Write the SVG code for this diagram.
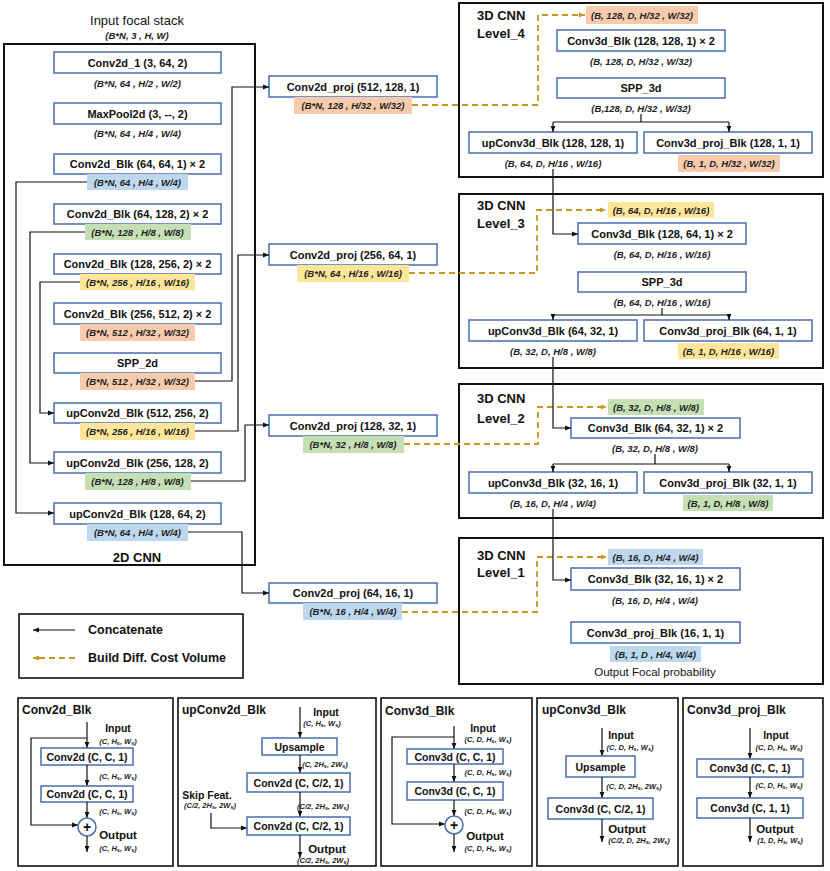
<svg xmlns="http://www.w3.org/2000/svg" width="830" height="871" viewBox="0 0 830 871">
<style>
.bg{fill:#fff}
.n{fill:#fff;stroke:#4A6CB0;stroke-width:1.5}
.t{font-family:"Liberation Sans",Arial,sans-serif;font-weight:bold;font-size:11px;text-anchor:middle;dominant-baseline:central;fill:#111}
.l{font-family:"Liberation Sans",Arial,sans-serif;font-weight:bold;font-style:italic;font-size:9.5px;text-anchor:middle;dominant-baseline:central;fill:#222}
.s{font-family:"Liberation Sans",Arial,sans-serif;font-weight:bold;font-style:italic;font-size:7.5px;text-anchor:middle;dominant-baseline:central;fill:#222}
.h{font-family:"Liberation Sans",Arial,sans-serif;font-weight:bold;font-size:13px;fill:#111;dominant-baseline:central}
.bt{font-family:"Liberation Sans",Arial,sans-serif;font-weight:bold;font-size:12px;fill:#111;dominant-baseline:central}
.bx{font-family:"Liberation Sans",Arial,sans-serif;font-weight:bold;font-size:10.5px;text-anchor:middle;dominant-baseline:central;fill:#111}
.r{font-family:"Liberation Sans",Arial,sans-serif;font-size:13px;text-anchor:middle;dominant-baseline:central;fill:#111}
.frame{fill:none;stroke:#111;stroke-width:2}
.c{fill:none;stroke:#111;stroke-width:1.2}
.d{fill:none;stroke:#C9971F;stroke-width:1.8;stroke-dasharray:6 4}
.hb{fill:#BDD7EE}.hg{fill:#C5E0B4}.hy{fill:#FFE699}.hs{fill:#F8CBAD}
</style>
<defs>
<marker id="a" viewBox="0 0 6 6" refX="6" refY="3" markerWidth="6" markerHeight="6" orient="auto" markerUnits="userSpaceOnUse"><path d="M0,0.6 L6,3 L0,5.4z" fill="#111"/></marker>
<marker id="g" viewBox="0 0 6 6" refX="6" refY="3" markerWidth="6" markerHeight="6" orient="auto" markerUnits="userSpaceOnUse"><path d="M0,0.6 L6,3 L0,5.4z" fill="#C9971F"/></marker>
</defs>
<rect class="bg" x="0" y="0" width="830" height="871"/>

<!-- 2D CNN -->
<g id="cnn2d">
<text class="r" x="137" y="20">Input focal stack</text>
<text class="l" x="137" y="35">(B*N, 3 , H, W)</text>
<rect class="frame" x="4" y="44" width="251" height="521"/>
<text class="h" x="137" y="557" text-anchor="middle">2D CNN</text>
</g>
<g id="conv2d_1"><rect class="n" x="54" y="52" width="167" height="21"/><text class="t" x="137.5" y="62.5">Conv2d_1 (3, 64, 2)</text><text class="l" x="137.5" y="83">(B*N, 64 , H/2 , W/2)</text></g>
<g id="maxpool"><rect class="n" x="54" y="103" width="167" height="21"/><text class="t" x="137.5" y="113.5">MaxPool2d (3, --, 2)</text><text class="l" x="137.5" y="133">(B*N, 64 , H/4 , W/4)</text></g>
<g id="c2b1"><rect class="n" x="54" y="154" width="167" height="20"/><text class="t" x="137.5" y="164">Conv2d_Blk (64, 64, 1) × 2</text><rect class="hb" x="87" y="174" width="101" height="16"/><text class="l" x="137.5" y="182">(B*N, 64 , H/4 , W/4)</text></g>
<g id="c2b2"><rect class="n" x="54" y="204" width="167" height="20"/><text class="t" x="137.5" y="214">Conv2d_Blk (64, 128, 2) × 2</text><rect class="hg" x="85" y="224" width="106" height="16"/><text class="l" x="137.5" y="232">(B*N, 128 , H/8 , W/8)</text></g>
<g id="c2b3"><rect class="n" x="54" y="254" width="167" height="20"/><text class="t" x="137.5" y="264">Conv2d_Blk (128, 256, 2) × 2</text><rect class="hy" x="80" y="274" width="115" height="16"/><text class="l" x="137.5" y="282">(B*N, 256 , H/16 , W/16)</text></g>
<g id="c2b4"><rect class="n" x="54" y="303" width="167" height="21"/><text class="t" x="137.5" y="313.5">Conv2d_Blk (256, 512, 2) × 2</text><rect class="hs" x="80" y="324" width="115" height="17"/><text class="l" x="137.5" y="332.5">(B*N, 512 , H/32 , W/32)</text></g>
<g id="spp2d"><rect class="n" x="54" y="353" width="167" height="20"/><text class="t" x="137.5" y="363">SPP_2d</text><rect class="hs" x="80" y="373" width="115" height="17"/><text class="l" x="137.5" y="381.5">(B*N, 512 , H/32 , W/32)</text></g>
<g id="up2d1"><rect class="n" x="54" y="403" width="167" height="20"/><text class="t" x="137.5" y="413">upConv2d_Blk (512, 256, 2)</text><rect class="hy" x="80" y="423" width="115" height="17"/><text class="l" x="137.5" y="431.5">(B*N, 256 , H/16 , W/16)</text></g>
<g id="up2d2"><rect class="n" x="54" y="452" width="167" height="21"/><text class="t" x="137.5" y="462.5">upConv2d_Blk (256, 128, 2)</text><rect class="hg" x="85" y="473" width="106" height="17"/><text class="l" x="137.5" y="481.5">(B*N, 128 , H/8 , W/8)</text></g>
<g id="up2d3"><rect class="n" x="54" y="503" width="167" height="21"/><text class="t" x="137.5" y="513.5">upConv2d_Blk (128, 64, 2)</text><rect class="hb" x="87" y="524" width="101" height="17"/><text class="l" x="137.5" y="532.5">(B*N, 64 , H/4 , W/4)</text></g>

<!-- projections -->
<g id="proj1"><rect class="n" x="269" y="76" width="168" height="21"/><text class="t" x="353" y="86.5">Conv2d_proj (512, 128, 1)</text><rect class="hs" x="294" y="97" width="118" height="17"/><text class="l" x="353" y="105.5">(B*N, 128 , H/32 , W/32)</text></g>
<g id="proj2"><rect class="n" x="269" y="244" width="168" height="21"/><text class="t" x="353" y="254.5">Conv2d_proj (256, 64, 1)</text><rect class="hy" x="297" y="265" width="112" height="17"/><text class="l" x="353" y="273.5">(B*N, 64 , H/16 , W/16)</text></g>
<g id="proj3"><rect class="n" x="269" y="415" width="168" height="21"/><text class="t" x="353" y="425.5">Conv2d_proj (128, 32, 1)</text><rect class="hg" x="303" y="436" width="101" height="17"/><text class="l" x="353" y="444.5">(B*N, 32 , H/8 , W/8)</text></g>
<g id="proj4"><rect class="n" x="269" y="583" width="168" height="20"/><text class="t" x="353" y="593">Conv2d_proj (64, 16, 1)</text><rect class="hb" x="303" y="603" width="99" height="17"/><text class="l" x="353" y="611.5">(B*N, 16 , H/4 , W/4)</text></g>

<!-- 3D levels -->
<g id="level4">
<rect class="frame" x="459" y="3" width="364" height="174"/>
<text class="h" x="477" y="15">3D CNN</text><text class="h" x="477" y="33">Level_4</text>
<rect class="hs" x="586" y="6" width="112" height="18"/><text class="l" x="642" y="15">(B, 128, D, H/32 , W/32)</text>
<rect class="n" x="557" y="30" width="168" height="21"/><text class="t" x="641" y="40.5">Conv3d_Blk (128, 128, 1) × 2</text><text class="l" x="641" y="61">(B, 128, D, H/32 , W/32)</text>
<rect class="n" x="557" y="78" width="168" height="20"/><text class="t" x="641" y="88">SPP_3d</text><text class="l" x="641" y="108">(B,128, D, H/32 , W/32)</text>
<rect class="n" x="469" y="132" width="168" height="21"/><text class="t" x="553" y="142.5">upConv3d_Blk (128, 128, 1)</text><text class="l" x="553" y="163">(B, 64, D, H/16 , W/16)</text>
<rect class="n" x="644" y="132" width="168" height="21"/><text class="t" x="728" y="142.5">Conv3d_proj_Blk (128, 1, 1)</text><rect class="hs" x="678" y="155" width="102" height="17"/><text class="l" x="729" y="163.5">(B, 1, D, H/32 , W/32)</text>
</g>
<g id="level3">
<rect class="frame" x="459" y="194" width="364" height="174"/>
<text class="h" x="477" y="205">3D CNN</text><text class="h" x="477" y="223">Level_3</text>
<rect class="hy" x="608" y="202" width="106" height="16"/><text class="l" x="661" y="210">(B, 64, D, H/16 , W/16)</text>
<rect class="n" x="578" y="223" width="168" height="21"/><text class="t" x="662" y="233.5">Conv3d_Blk (128, 64, 1) × 2</text><text class="l" x="662" y="254">(B, 64, D, H/16 , W/16)</text>
<rect class="n" x="578" y="272" width="168" height="20"/><text class="t" x="662" y="282">SPP_3d</text><text class="l" x="662" y="302">(B, 64, D, H/16 , W/16)</text>
<rect class="n" x="469" y="320" width="168" height="21"/><text class="t" x="553" y="330.5">upConv3d_Blk (64, 32, 1)</text><text class="l" x="553" y="351">(B, 32, D, H/8 , W/8)</text>
<rect class="n" x="644" y="320" width="168" height="21"/><text class="t" x="728" y="330.5">Conv3d_proj_Blk (64, 1, 1)</text><rect class="hy" x="678" y="343" width="101" height="16"/><text class="l" x="728.5" y="351">(B, 1, D, H/16 , W/16)</text>
</g>
<g id="level2">
<rect class="frame" x="459" y="384" width="364" height="134"/>
<text class="h" x="477" y="398">3D CNN</text><text class="h" x="477" y="418">Level_2</text>
<rect class="hg" x="608" y="399" width="96" height="16"/><text class="l" x="656" y="407">(B, 32, D, H/8 , W/8)</text>
<rect class="n" x="571" y="418" width="169" height="20"/><text class="t" x="655.5" y="428">Conv3d_Blk (64, 32, 1) × 2</text><text class="l" x="655" y="448">(B, 32, D, H/8 , W/8)</text>
<rect class="n" x="469" y="472" width="168" height="21"/><text class="t" x="553" y="482.5">upConv3d_Blk (32, 16, 1)</text><text class="l" x="553" y="503">(B, 16, D, H/4 , W/4)</text>
<rect class="n" x="644" y="472" width="168" height="21"/><text class="t" x="728" y="482.5">Conv3d_proj_Blk (32, 1, 1)</text><rect class="hg" x="683" y="495" width="90" height="16"/><text class="l" x="728" y="503">(B, 1, D, H/8 , W/8)</text>
</g>
<g id="level1">
<rect class="frame" x="459" y="538" width="364" height="146"/>
<text class="h" x="477" y="555">3D CNN</text><text class="h" x="477" y="572">Level_1</text>
<rect class="hb" x="608" y="549" width="95" height="16"/><text class="l" x="655.5" y="557">(B, 16, D, H/4 , W/4)</text>
<rect class="n" x="571" y="568" width="169" height="22"/><text class="t" x="655.5" y="579">Conv3d_Blk (32, 16, 1) × 2</text><text class="l" x="655" y="600">(B, 16, D, H/4 , W/4)</text>
<rect class="n" x="571" y="622" width="169" height="21"/><text class="t" x="655.5" y="632.5">Conv3d_proj_Blk (16, 1, 1)</text><rect class="hb" x="610" y="646" width="91" height="16"/><text class="l" x="655.5" y="654">(B, 1, D , H/4, W/4)</text>
<text class="r" x="655" y="672" style="font-size:11.5px">Output Focal probability</text>
</g>

<!-- legend -->
<g id="legend">
<rect class="frame" x="19" y="614" width="224" height="64" style="stroke-width:1.6"/>
<path class="c" d="M75,630 H33" marker-end="url(#a)"/>
<text class="bt" x="88" y="630" style="font-size:12.5px">Concatenate</text>
<path class="d" d="M75,658 H33" marker-end="url(#g)"/>
<text class="bt" x="88" y="658" style="font-size:12.5px">Build Diff. Cost Volume</text>
</g>

<!-- connectors -->
<g id="connectors">
<path class="c" d="M87,182 H16 V513 H54" marker-end="url(#a)"/>
<path class="c" d="M85,232 H30 V463 H54" marker-end="url(#a)"/>
<path class="c" d="M80,282 H40 V413 H54" marker-end="url(#a)"/>
<path class="c" d="M195,381 H232 V87 H269" marker-end="url(#a)"/>
<path class="c" d="M195,431 H238 V255 H269" marker-end="url(#a)"/>
<path class="c" d="M191,481 H245 V425 H269" marker-end="url(#a)"/>
<path class="c" d="M188,532 H242 V593 H269" marker-end="url(#a)"/>
<path class="d" d="M412,105 H538 V15 H585" marker-end="url(#g)"/>
<path class="d" d="M409,273 H537 V210 H606" marker-end="url(#g)"/>
<path class="d" d="M404,444 H538 V407 H607" marker-end="url(#g)"/>
<path class="d" d="M402,612 H537 V557 H607" marker-end="url(#g)"/>
<path class="c" d="M641,114 V122 M553,122 H729"/>
<path class="c" d="M553,122 V132" marker-end="url(#a)"/>
<path class="c" d="M729,122 V132" marker-end="url(#a)"/>
<path class="c" d="M662,308 V315 M553,315 H729"/>
<path class="c" d="M553,315 V320" marker-end="url(#a)"/>
<path class="c" d="M729,315 V320" marker-end="url(#a)"/>
<path class="c" d="M655,454 V464 M553,464 H729"/>
<path class="c" d="M553,464 V472" marker-end="url(#a)"/>
<path class="c" d="M729,464 V472" marker-end="url(#a)"/>
<path class="c" d="M553,169 V234 H578" marker-end="url(#a)"/>
<path class="c" d="M553,357 V428 H571" marker-end="url(#a)"/>
<path class="c" d="M553,509 V580 H571" marker-end="url(#a)"/>
</g>

<!-- detail blocks -->
<g id="blk_conv2d">
<rect class="frame" x="18" y="698" width="155" height="168" style="stroke-width:1.6"/>
<text class="bt" x="22" y="710">Conv2d_Blk</text>
<path class="c" d="M87,722 V748" marker-end="url(#a)"/>
<path class="c" d="M87,738 H31 V825 H78" marker-end="url(#a)"/>
<text class="bx" x="118" y="728">Input</text>
<text class="s" x="118" y="741">(C, H<tspan dy="1.5" font-size="5.5">s</tspan><tspan dy="-1.5">, W</tspan><tspan dy="1.5" font-size="5.5">s</tspan><tspan dy="-1.5">)</tspan></text>
<rect class="n" x="41" y="748" width="92" height="17"/><text class="bx" x="87" y="756.5">Conv2d (C, C, 1)</text>
<path class="c" d="M87,765 V786" marker-end="url(#a)"/>
<text class="s" x="118" y="776">(C, H<tspan dy="1.5" font-size="5.5">s</tspan><tspan dy="-1.5">, W</tspan><tspan dy="1.5" font-size="5.5">s</tspan><tspan dy="-1.5">)</tspan></text>
<rect class="n" x="41" y="786" width="92" height="16"/><text class="bx" x="87" y="794">Conv2d (C, C, 1)</text>
<path class="c" d="M87,802 V818" marker-end="url(#a)"/>
<text class="s" x="118" y="811">(C, H<tspan dy="1.5" font-size="5.5">s</tspan><tspan dy="-1.5">, W</tspan><tspan dy="1.5" font-size="5.5">s</tspan><tspan dy="-1.5">)</tspan></text>
<circle class="n" cx="87" cy="827" r="9"/><text class="bx" x="87" y="826.5" style="font-size:14px">+</text>
<path class="c" d="M87,836 V852" marker-end="url(#a)"/>
<text class="bx" x="118" y="835" style="font-size:11.5px">Output</text>
<text class="s" x="118" y="848">(C, H<tspan dy="1.5" font-size="5.5">s</tspan><tspan dy="-1.5">, W</tspan><tspan dy="1.5" font-size="5.5">s</tspan><tspan dy="-1.5">)</tspan></text>
</g>
<g id="blk_upconv2d">
<rect class="frame" x="178" y="698" width="198" height="168" style="stroke-width:1.6"/>
<text class="bt" x="182" y="710">upConv2d_Blk</text>
<path class="c" d="M300,707 V738" marker-end="url(#a)"/>
<text class="bx" x="326" y="712">Input</text>
<text class="s" x="322" y="723">(C, H<tspan dy="1.5" font-size="5.5">s</tspan><tspan dy="-1.5">, W</tspan><tspan dy="1.5" font-size="5.5">s</tspan><tspan dy="-1.5">)</tspan></text>
<rect class="n" x="262" y="738" width="75" height="17"/><text class="bx" x="299.5" y="746.5">Upsample</text>
<path class="c" d="M300,755 V773" marker-end="url(#a)"/>
<text class="s" x="325" y="764">(C, 2H<tspan dy="1.5" font-size="5.5">s</tspan><tspan dy="-1.5">, 2W</tspan><tspan dy="1.5" font-size="5.5">s</tspan><tspan dy="-1.5">)</tspan></text>
<rect class="n" x="247" y="773" width="103" height="19"/><text class="bx" x="298.5" y="782.5">Conv2d (C, C/2, 1)</text>
<path class="c" d="M300,792 V817" marker-end="url(#a)"/>
<text class="s" x="323" y="806">(C/2, 2H<tspan dy="1.5" font-size="5.5">s</tspan><tspan dy="-1.5">, 2W</tspan><tspan dy="1.5" font-size="5.5">s</tspan><tspan dy="-1.5">)</tspan></text>
<text class="bx" x="207" y="795">Skip Feat.</text>
<text class="s" x="210" y="805">(C/2, 2H<tspan dy="1.5" font-size="5.5">s</tspan><tspan dy="-1.5">, 2W</tspan><tspan dy="1.5" font-size="5.5">s</tspan><tspan dy="-1.5">)</tspan></text>
<path class="c" d="M211,813 V828 H247" marker-end="url(#a)"/>
<rect class="n" x="247" y="817" width="103" height="18"/><text class="bx" x="298.5" y="826">Conv2d (C, C/2, 1)</text>
<path class="c" d="M300,835 V858" marker-end="url(#a)"/>
<text class="bx" x="327" y="849" style="font-size:11.5px">Output</text>
<text class="s" x="323" y="860">(C/2, 2H<tspan dy="1.5" font-size="5.5">s</tspan><tspan dy="-1.5">, 2W</tspan><tspan dy="1.5" font-size="5.5">s</tspan><tspan dy="-1.5">)</tspan></text>
</g>
<g id="blk_conv3d">
<rect class="frame" x="381" y="698" width="151" height="168" style="stroke-width:1.6"/>
<text class="bt" x="385" y="711">Conv3d_Blk</text>
<path class="c" d="M454,726 V749" marker-end="url(#a)"/>
<path class="c" d="M454,737 H392 V824 H445" marker-end="url(#a)"/>
<text class="bx" x="483" y="728">Input</text>
<text class="s" x="488" y="739">(C, D, H<tspan dy="1.5" font-size="5.5">s</tspan><tspan dy="-1.5">, W</tspan><tspan dy="1.5" font-size="5.5">s</tspan><tspan dy="-1.5">)</tspan></text>
<rect class="n" x="407" y="749" width="96" height="15"/><text class="bx" x="455" y="756.5">Conv3d (C, C, 1)</text>
<path class="c" d="M454,764 V782" marker-end="url(#a)"/>
<text class="s" x="488" y="772">(C, D, H<tspan dy="1.5" font-size="5.5">s</tspan><tspan dy="-1.5">, W</tspan><tspan dy="1.5" font-size="5.5">s</tspan><tspan dy="-1.5">)</tspan></text>
<rect class="n" x="407" y="782" width="96" height="18"/><text class="bx" x="455" y="791">Conv3d (C, C, 1)</text>
<path class="c" d="M454,800 V816" marker-end="url(#a)"/>
<text class="s" x="488" y="811">(C, D, H<tspan dy="1.5" font-size="5.5">s</tspan><tspan dy="-1.5">, W</tspan><tspan dy="1.5" font-size="5.5">s</tspan><tspan dy="-1.5">)</tspan></text>
<circle class="n" cx="454" cy="825" r="9"/><text class="bx" x="454" y="824.5" style="font-size:14px">+</text>
<path class="c" d="M454,834 V852" marker-end="url(#a)"/>
<text class="bx" x="485" y="836" style="font-size:11.5px">Output</text>
<text class="s" x="488" y="848">(C, D, H<tspan dy="1.5" font-size="5.5">s</tspan><tspan dy="-1.5">, W</tspan><tspan dy="1.5" font-size="5.5">s</tspan><tspan dy="-1.5">)</tspan></text>
</g>
<g id="blk_upconv3d">
<rect class="frame" x="537" y="698" width="141" height="168" style="stroke-width:1.6"/>
<text class="bt" x="542" y="710">upConv3d_Blk</text>
<path class="c" d="M602,728 V756" marker-end="url(#a)"/>
<text class="bx" x="621" y="735">Input</text>
<text class="s" x="630" y="747">(C, D, H<tspan dy="1.5" font-size="5.5">s</tspan><tspan dy="-1.5">, W</tspan><tspan dy="1.5" font-size="5.5">s</tspan><tspan dy="-1.5">)</tspan></text>
<rect class="n" x="566" y="756" width="69" height="21"/><text class="bx" x="600.5" y="766.5">Upsample</text>
<path class="c" d="M602,777 V798" marker-end="url(#a)"/>
<text class="s" x="634" y="786">(C, D, 2H<tspan dy="1.5" font-size="5.5">s</tspan><tspan dy="-1.5">, 2W</tspan><tspan dy="1.5" font-size="5.5">s</tspan><tspan dy="-1.5">)</tspan></text>
<rect class="n" x="548" y="798" width="105" height="21"/><text class="bx" x="600.5" y="808.5">Conv3d (C, C/2, 1)</text>
<path class="c" d="M602,819 V842" marker-end="url(#a)"/>
<text class="bx" x="627" y="829" style="font-size:11.5px">Output</text>
<text class="s" x="639" y="840">(C/2, D, 2H<tspan dy="1.5" font-size="5.5">s</tspan><tspan dy="-1.5">, 2W</tspan><tspan dy="1.5" font-size="5.5">s</tspan><tspan dy="-1.5">)</tspan></text>
</g>
<g id="blk_conv3dproj">
<rect class="frame" x="683" y="698" width="140" height="168" style="stroke-width:1.6"/>
<text class="bt" x="687" y="710">Conv3d_proj_Blk</text>
<path class="c" d="M750,728 V759" marker-end="url(#a)"/>
<text class="bx" x="776" y="735">Input</text>
<text class="s" x="779" y="747">(C, D, H<tspan dy="1.5" font-size="5.5">s</tspan><tspan dy="-1.5">, W</tspan><tspan dy="1.5" font-size="5.5">s</tspan><tspan dy="-1.5">)</tspan></text>
<rect class="n" x="697" y="759" width="106" height="18"/><text class="bx" x="750" y="768">Conv3d (C, C, 1)</text>
<path class="c" d="M750,777 V798" marker-end="url(#a)"/>
<text class="s" x="779" y="785">(C, D, H<tspan dy="1.5" font-size="5.5">s</tspan><tspan dy="-1.5">, W</tspan><tspan dy="1.5" font-size="5.5">s</tspan><tspan dy="-1.5">)</tspan></text>
<rect class="n" x="697" y="798" width="106" height="20"/><text class="bx" x="750" y="808">Conv3d (C, 1, 1)</text>
<path class="c" d="M750,818 V842" marker-end="url(#a)"/>
<text class="bx" x="775" y="829" style="font-size:11.5px">Output</text>
<text class="s" x="780" y="840">(1, D, H<tspan dy="1.5" font-size="5.5">s</tspan><tspan dy="-1.5">, W</tspan><tspan dy="1.5" font-size="5.5">s</tspan><tspan dy="-1.5">)</tspan></text>
</g>
</svg>
